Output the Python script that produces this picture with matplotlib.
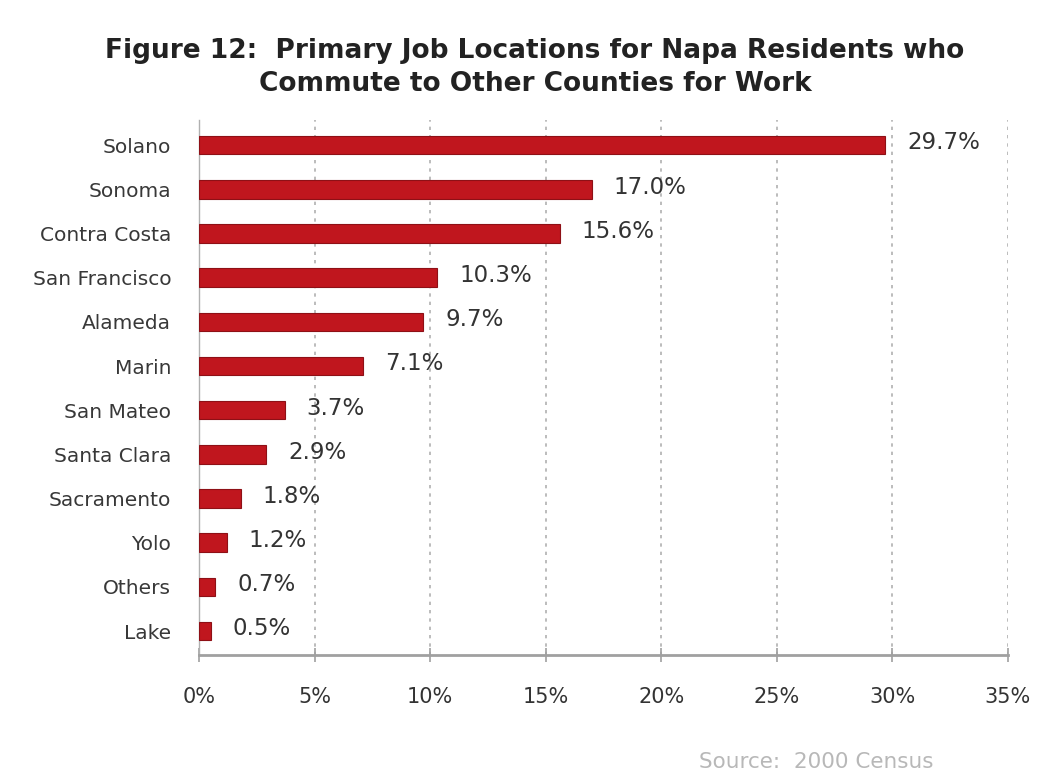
import matplotlib.pyplot as plt
import numpy as np

plt.rcParams['font.family'] = 'DejaVu Sans'

# commute destinations, share of out-of-county commuters (%)
counties = ["Solano", "Sonoma", "Contra Costa", "San Francisco", "Alameda", "Marin",
            "San Mateo", "Santa Clara", "Sacramento", "Yolo", "Others", "Lake"]
shares = [29.7, 17.0, 15.6, 10.3, 9.7, 7.1, 3.7, 2.9, 1.8, 1.2, 0.7, 0.5]
xticks = [0, 5, 10, 15, 20, 25, 30, 35]

fig = plt.figure(figsize=(10.43, 7.71), dpi=100)
ax = fig.add_axes([0.1908, 0.1505, 0.7756, 0.6939])

ypos = np.arange(len(counties))
ax.barh(ypos, shares, height=0.42, color='#c0161e', edgecolor='#8e1016', linewidth=0.8, zorder=3)

for y, v in zip(ypos, shares):
    ax.text(v + 0.95, y - 0.05, "{:.1f}%".format(v), va='center', ha='left',
            fontsize=16.5, color='#333333', zorder=4)

ax.set_xlim(0, 35)
ax.set_ylim(11.54, -0.57)
ax.set_yticks(ypos)
ax.set_yticklabels(counties, fontsize=14.5, color='#383838')
ax.set_xticks(xticks)
ax.set_xticklabels(["{}%".format(t) for t in xticks], fontsize=15, color='#333333')

# dotted vertical gridlines
ax.grid(axis='x', linestyle=(0, (2, 3)), color='#b0b0b0', linewidth=1.2, zorder=0)
ax.set_axisbelow(True)

for s in ['top', 'right']:
    ax.spines[s].set_visible(False)
ax.spines['bottom'].set_color('#a0a0a0')
ax.spines['bottom'].set_linewidth(2)
ax.spines['left'].set_color('#b0b0b0')
ax.spines['left'].set_linewidth(1)
ax.tick_params(axis='x', direction='inout', length=10, width=1.2, color='#a0a0a0', pad=18)
ax.tick_params(axis='y', length=0, pad=20)

fig.text(0.513, 0.913, "Figure 12:  Primary Job Locations for Napa Residents who\nCommute to Other Counties for Work",
         ha='center', va='center', fontsize=19, fontweight='bold', color='#222222', linespacing=1.35)

fig.text(0.67, 0.012, "Source:  2000 Census", fontsize=15.5, color='#b8b8b8', ha='left', va='center')

fig.savefig("out.png", dpi=100, facecolor='white')
